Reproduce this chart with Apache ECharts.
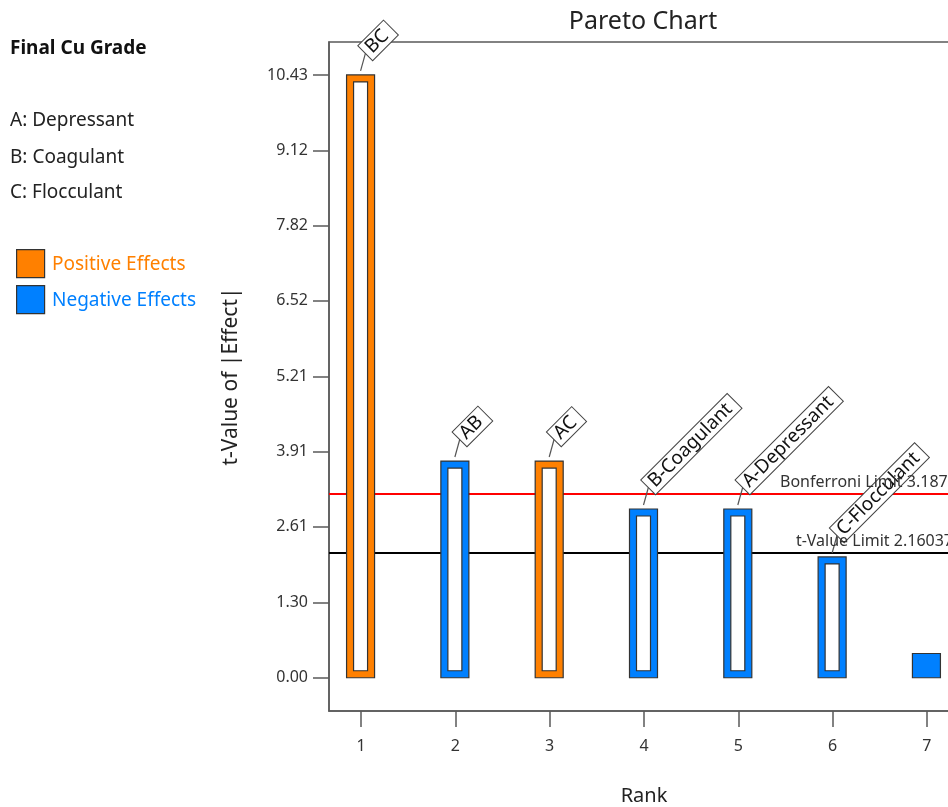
<!DOCTYPE html>
<html>
<head>
<meta charset="utf-8">
<script src="https://cdn.jsdelivr.net/npm/echarts@6/dist/echarts.min.js"></script>
<style>
  html, body { margin: 0; padding: 0; background: #fff; }
  #chart { width: 948px; height: 807px; }
</style>
</head>
<body>
<div id="chart"></div>
<script>
// Pareto chart of standardized effects for Final Cu Grade
const ranks = [1, 2, 3, 4, 5, 6, 7];
const terms = ['BC', 'AB', 'AC', 'B-Coagulant', 'A-Depressant', 'C-Flocculant', ''];
const tValues = [10.43, 3.75, 3.75, 2.92, 2.92, 2.09, 0.42];
const effectSigns = [1, -1, 1, -1, -1, -1, -1];
const modelTerms = [true, true, true, true, true, true, false];
const yTickValues = [0, 1.30, 2.61, 3.91, 5.21, 6.52, 7.82, 9.12, 10.43];
const yTickLabels = ['0.00', '1.30', '2.61', '3.91', '5.21', '6.52', '7.82', '9.12', '10.43'];
const xTickLabels = ['1', '2', '3', '4', '5', '6', '7'];
const bonferroniLimit = 3.18717;
const tValueLimit = 2.16037;
const responseName = 'Final Cu Grade';
const factorNames = ['A: Depressant', 'B: Coagulant', 'C: Flocculant'];
const legendNames = ['Positive Effects', 'Negative Effects'];

const ORANGE = '#FF8000';
const BLUE = '#0080FF';
const FRAME = '#5a5a5a';
const FONT = '"Noto Sans", "Open Sans", sans-serif';

const chart = echarts.init(document.getElementById('chart'));

// Hollow bar (outer coloured frame + white core) with a tilted term tag
function renderBar(params, api) {
  const i = params.dataIndex;
  const top = api.coord([api.value(0), api.value(1)]);
  const base = api.coord([api.value(0), 0]);
  const w = 28, inset = 7;
  const cx = top[0] - 0.5;
  const h = base[1] - top[1];
  const fill = effectSigns[i] > 0 ? ORANGE : BLUE;
  const kids = [{
    type: 'rect',
    shape: { x: cx - w / 2, y: top[1], width: w, height: h },
    style: { fill: fill, stroke: '#333', lineWidth: 1.2 }
  }];
  if (modelTerms[i]) {
    kids.push({
      type: 'rect',
      shape: { x: cx - w / 2 + inset, y: top[1] + inset, width: w - 2 * inset, height: h - 2 * inset },
      style: { fill: '#fff', stroke: '#333', lineWidth: 1.2 }
    });
  }
  if (terms[i]) {
    const x0 = cx, y0 = top[1] - 4, x1 = cx + 5, y1 = top[1] - 22;
    kids.push({
      type: 'line',
      shape: { x1: x0, y1: y0, x2: x1, y2: y1 },
      style: { stroke: '#555', lineWidth: 1.2 }
    });
    kids.push({
      type: 'text',
      x: x1, y: y1,
      rotation: Math.PI / 4,
      style: {
        text: terms[i], fontSize: 19, fontFamily: FONT, fill: '#111',
        align: 'left', verticalAlign: 'middle',
        backgroundColor: '#fff', borderColor: '#444', borderWidth: 1,
        padding: [1, 7, 0, 4]
      }
    });
  }
  return { type: 'group', children: kids };
}

const sideTexts = [];
sideTexts.push({
  type: 'text', left: 10, top: 39,
  style: { text: responseName, fontSize: 19, fontWeight: 'bold', fontFamily: FONT, fill: '#111' }
});
factorNames.forEach((t, k) => {
  sideTexts.push({
    type: 'text', left: 10, top: [111, 148, 183][k],
    style: { text: t, fontSize: 19, fontFamily: FONT, fill: '#222' }
  });
});
legendNames.forEach((t, k) => {
  const y = [249, 285][k];
  const c = k === 0 ? ORANGE : BLUE;
  sideTexts.push({
    type: 'rect', left: 16, top: y,
    shape: { width: 28, height: 28 },
    style: { fill: c, stroke: '#333', lineWidth: 1.2 }
  });
  sideTexts.push({
    type: 'text', left: 52, top: y + 6,
    style: { text: t, fontSize: 19, fontFamily: FONT, fill: c }
  });
});

chart.setOption({
  backgroundColor: '#fff',
  animation: false,
  title: {
    text: 'Pareto Chart',
    left: 638, top: 4, textAlign: 'center',
    textStyle: { fontSize: 25, fontWeight: 'normal', fontFamily: FONT, color: '#222' }
  },
  graphic: sideTexts,
  grid: {
    left: 329, top: 42, width: 630, height: 669,
    outerBoundsMode: 'none',
    show: true, borderColor: FRAME, borderWidth: 1.5, containLabel: false
  },
  xAxis: {
    type: 'value', min: 0.66, max: 7.34,
    name: 'Rank', nameLocation: 'middle', nameGap: 75,
    nameTextStyle: { fontSize: 20, fontFamily: FONT, color: '#222' },
    axisLine: { show: true, onZero: false, lineStyle: { color: FRAME, width: 1.5 } },
    axisTick: { show: true, length: 16, customValues: ranks, lineStyle: { color: FRAME, width: 1.5 } },
    axisLabel: {
      customValues: ranks, margin: 27, fontSize: 16, fontFamily: FONT, color: '#333',
      formatter: v => xTickLabels[ranks.indexOf(v)]
    },
    splitLine: { show: false }
  },
  yAxis: {
    type: 'value', min: -0.575, max: 11.0,
    name: 't-Value of |Effect|', nameLocation: 'middle', nameGap: 87,
    nameTextStyle: { fontSize: 21, fontFamily: FONT, color: '#222' },
    axisLine: { show: true, onZero: false, lineStyle: { color: FRAME, width: 1.5 } },
    axisTick: { show: true, length: 16, customValues: yTickValues, lineStyle: { color: FRAME, width: 1.5 } },
    axisLabel: {
      customValues: yTickValues, margin: 21, fontSize: 16, fontFamily: FONT, color: '#333',
      formatter: v => yTickLabels[yTickValues.indexOf(v)]
    },
    splitLine: { show: false }
  },
  series: [
    {
      type: 'line', data: [], z: 2, silent: true,
      markLine: {
        symbol: 'none', silent: true, animation: false,
        data: [
          {
            yAxis: bonferroniLimit,
            lineStyle: { color: '#FF0000', width: 2, type: 'solid' },
            label: {
              show: true, position: 'insideEndTop', distance: [-7, 3],
              formatter: 'Bonferroni Limit ' + bonferroniLimit,
              fontSize: 16, fontFamily: FONT, color: '#333'
            }
          },
          {
            yAxis: tValueLimit,
            lineStyle: { color: '#000', width: 2, type: 'solid' },
            label: {
              show: true, position: 'insideEndTop', distance: [6, 3],
              formatter: 't-Value Limit ' + tValueLimit,
              fontSize: 16, fontFamily: FONT, color: '#333'
            }
          }
        ]
      }
    },
    {
      type: 'custom', z: 5, clip: false,
      renderItem: renderBar,
      encode: { x: 0, y: 1 },
      data: ranks.map((r, i) => [r, tValues[i]])
    }
  ]
});
</script>
</body>
</html>
